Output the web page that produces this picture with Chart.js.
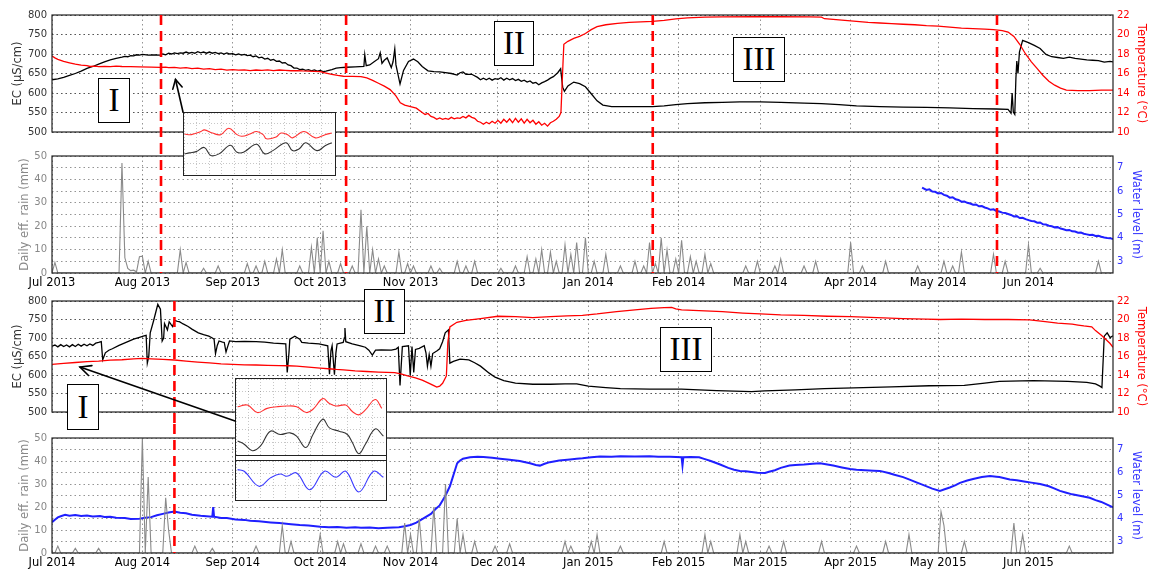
<!DOCTYPE html>
<html>
<head>
<meta charset="utf-8">
<title>EC, temperature, rain and water level</title>
<script src="https://cdn.jsdelivr.net/npm/chart.js@4.4.1/dist/chart.umd.min.js"></script>
<style>
  html, body { margin: 0; padding: 0; background: #fff; }
  #wrap { position: relative; width: 1149px; height: 573px; overflow: hidden; }
  canvas.panel { position: absolute; left: 0; }
  .tag { position: absolute; box-sizing: border-box; border: 1.5px solid #000; background: #fff;
         font-family: 'Liberation Serif', 'DejaVu Serif', serif; font-size: 33px; line-height: 1;
         display: flex; align-items: center; justify-content: center; color: #000; }
  .inset { position: absolute; box-sizing: border-box; background: #fff; border: 1.5px solid #222; }
  .inset canvas { display: block; }
  .inset .sep { height: 4px; border-top: 1.5px solid #222; border-bottom: 1.5px solid #222; background: #fff; }
  #arrows { position: absolute; left: 0; top: 0; }
</style>
</head>
<body>
<div id="wrap">
  <canvas class="panel" id="p1" width="1149" height="144" style="top:0px"></canvas>
  <canvas class="panel" id="p2" width="1149" height="146" style="top:144px"></canvas>
  <canvas class="panel" id="p3" width="1149" height="134" style="top:290px"></canvas>
  <canvas class="panel" id="p4" width="1149" height="149" style="top:424px"></canvas>

  <div class="inset" style="left:183px; top:112px; width:153px; height:64px;">
    <canvas id="insetTop" width="150" height="61"></canvas>
  </div>
  <div class="inset" style="left:235px; top:378px; width:152px; height:123px;">
    <canvas id="insetMid" width="149" height="76"></canvas>
    <div class="sep"></div>
    <canvas id="insetLow" width="149" height="37"></canvas>
  </div>

  <div class="tag" style="left:98px; top:78px; width:32px; height:45px;">I</div>
  <div class="tag" style="left:494px; top:21px; width:40px; height:45px;">II</div>
  <div class="tag" style="left:733px; top:37px; width:52px; height:45px;">III</div>
  <div class="tag" style="left:364px; top:289px; width:41px; height:45px;">II</div>
  <div class="tag" style="left:660px; top:327px; width:52px; height:45px;">III</div>
  <div class="tag" style="left:67px; top:384px; width:32px; height:46px;">I</div>

  <svg id="arrows" width="1149" height="573"></svg>
</div>

<script>
// ---- time axis (days since 1 July of the first year) ----
const MONTH_STARTS = [0, 31, 62, 92, 123, 153, 184, 215, 243, 274, 304, 335];
const DAY_MAX = 364;
const tickLabels2013 = ['Jul 2013', 'Aug 2013', 'Sep 2013', 'Oct 2013', 'Nov 2013', 'Dec 2013',
                        'Jan 2014', 'Feb 2014', 'Mar 2014', 'Apr 2014', 'May 2014', 'Jun 2014'];
const tickLabels2014 = ['Jul 2014', 'Aug 2014', 'Sep 2014', 'Oct 2014', 'Nov 2014', 'Dec 2014',
                        'Jan 2015', 'Feb 2015', 'Mar 2015', 'Apr 2015', 'May 2015', 'Jun 2015'];

// ---- axis tick values ----
const ecTicks = [500, 550, 600, 650, 700, 750, 800];
const tempTicks = [10, 12, 14, 16, 18, 20, 22];
const rainTicks = [0, 10, 20, 30, 40, 50];
const levelTicks = [3, 4, 5, 6, 7];

// ---- period boundaries (day numbers) ----
const boundaries2013 = [37.4, 100.9, 206.1, 324.2];
const boundaries2014 = [42.0];

// ---- 2013/14: EC (uS/cm) ----
const ec2013 = [
  [0,634],[2,636],[4,640],[6,645],[8,650],[10,656],[12,663],[14,668],[16,674],[18,680],[20,685],[22,689],
  [24,692],[25,694],[26,693],[27,696],[28,695],[29,698],[30,697],[31,699],[33,697],[35,698],[37,697],[38,700],
  [39,698],[40,702],[41,700],[42,703],[43,701],[44,703],[45,702],[46,705],[47,702],[48,704],[49,702],[50,706],
  [51,703],[52,705],[53,702],[54,705],[55,702],[56,704],[57,701],[58,703],[59,700],[60,703],[61,700],[62,701],
  [63,698],[64,700],[65,697],[66,699],[67,696],[68,697],[69,693],[70,695],[71,690],[72,692],[73,687],[74,689],
  [75,684],[76,686],[77,681],[78,682],[79,677],[80,678],[81,672],[82,670],[83,664],[84,664],[85,660],[86,661],
  [87,658],[88,660],[89,657],[90,659],[91,656],[92,658],[93,655],[94,656],[96,660],
  [97.5,664],[99,665],[101,666],[104,667],[107,668],[107.3,698],[107.8,670],[109,672],[110.5,680],[112,688],
  [112.6,703],[113.2,676],[114,684],[115,690],[116.4,665],[117,680],[117.6,713],[118,672],[119.4,623],[120.6,658],
  [122.3,681],[124,687],[125.5,680],[127,668],[129,657],[131,655],[133,654],[135,652],[137,650],[139,646],
  [140,652],[141,654],[142,648],[144,648],[146,640],[147,634],[148,638],[149,634],[150,638],[151,633],[152,637],
  [153,635],[154,639],[155,633],[156,638],[157,634],[158,637],[159,632],[160,635],[161,630],[162,633],[163,628],
  [164,631],[165,625],[166,627],[167,621],[168,626],[169,629],[170,633],[171,638],[172,642],[173.5,652],
  [174.5,662],[175.2,615],[175.8,604],[177,618],[179,628],[181,624],[183,616],[185,598],[187,580],[189,569],
  [192,565],[196,565],[200,565],[206,565],[210,567],[214,570],[218,573],[224,575],[230,576],[236,577],
  [243,577],[250,576],[258,574],[264,573],[270,570],[276,567],[284,565],[292,564],[300,563],[308,562],
  [316,560],[324,559],[328,558],[329,548],[329.4,600],[329.8,551],[330.3,545],[330.7,640],[331,682],
  [331.4,650],[331.9,705],[333,735],[335,729],[337,722],[339,714],[341,699],[343,693],[345,691],[347,689],
  [349,692],[351,689],[353,687],[355,685],[357,684],[359,683],[361,679],[363,681],[364,680]
];

// ---- 2013/14: water temperature (deg C) ----
const temp2013 = [
  [0,17.8],[1,17.6],[2,17.45],[4,17.25],[6,17.1],[8,16.95],[10,16.85],[12,16.8],[13,16.72],[15,16.76],[16,16.7],
  [18,16.74],[20,16.7],[22,16.75],[24,16.72],[27,16.7],[30,16.68],[34,16.65],[37,16.62],[39,16.66],[40,16.6],
  [42,16.63],[44,16.55],[46,16.6],[48,16.5],[50,16.55],[52,16.45],[54,16.5],[56,16.4],[58,16.45],[60,16.35],
  [62,16.4],[64,16.35],[66,16.38],[68,16.3],[70,16.36],[72,16.32],[74,16.37],[76,16.3],[78,16.36],[80,16.33],
  [82,16.28],[84,16.3],[86,16.26],[88,16.25],[90,16.22],[92,16.2],[94,16.05],
  [96,15.9],[98,15.8],[100,15.72],[103,15.7],[106,15.68],[108,15.55],[110,15.3],[112,15.0],[114,14.7],
  [116,14.35],[118,13.7],[119.5,13.0],[121,12.75],[123,12.6],[125,12.45],[127,12.0],[128,11.8],[129,11.9],
  [130,11.6],[131,11.5],[132,11.3],[133,11.45],[134,11.3],[135,11.4],[136,11.3],[137,11.5],[138,11.35],
  [139,11.45],[140,11.4],[141,11.6],[142,11.45],[143,11.7],[144,11.5],[145,11.4],[146,11.1],[147,11.0],
  [148,10.8],[149,11.0],[150,10.85],[151,11.1],[152,10.9],[153,11.2],[154,10.9],[155,11.3],[156,11.0],
  [157,11.35],[158,10.95],[159,11.4],[160,11.0],[161,11.35],[162,10.9],[163,11.3],[164,10.95],[165,11.2],
  [166,10.8],[167,11.05],[168,10.7],[169,10.9],[170,10.6],[171,10.95],[172,11.1],[173,11.3],[174,11.6],
  [174.6,12.0],[175.3,17.0],[175.6,19.0],[177,19.3],[179,19.6],[181,19.8],[183,20.1],[185,20.5],[187,20.8],
  [190,21.0],[194,21.15],[198,21.25],[202,21.3],[206,21.35],[210,21.45],[214,21.6],[218,21.7],[224,21.78],
  [230,21.8],[240,21.82],[250,21.82],[260,21.8],[264,21.78],[265,21.62],[268,21.55],[272,21.45],[276,21.35],
  [280,21.25],[284,21.18],[288,21.12],[292,21.05],[296,21.0],[300,20.9],[304,20.85],[308,20.75],[312,20.65],
  [316,20.6],[320,20.55],[323,20.5],[326,20.4],[328,20.25],[330,19.8],[332,19.0],[334,18.0],[336,17.2],
  [338,16.5],[340,15.8],[342,15.2],[344,14.8],[346,14.5],[348,14.3],[352,14.25],[356,14.25],[360,14.3],[364,14.3]
];

// ---- 2013/14: daily effective rain (mm), days with rain ----
const rainDays2013 = [1,24,25,26,27,28,29,30,31,33,44,46,52,57,67,70,73,77,79,85,89,91,93,95,99,103,106,108,110,112,
  114,119,122,124,130,133,139,142,145,154,159,163,166,168,171,173,176,178,180,183,186,190,195,200,203,205,207,209,
  211,214,216,219,221,224,226,238,242,248,250,258,262,274,278,286,297,306,309,312,323,327,335,339,359];
const rainMm2013 = [4.5,47,6.5,2,1,1.2,0.5,7,7.2,5,10,4.5,2,3,4,3,5,6,10,3,11,15,18,5,4,3,27,20,10,6,
  3,9,4,3,3,2,5,3,5,2,3,7,6,10,9,5,12,8,13,15,5,8,3,5,3,13,4,15,
  10,6,14,7,5,8,4,3,5,3,6,3,5,13,3,5,3,5,3,9,8,5,12,2,5];

// ---- 2013/14: water level (m) ----
const level2013 = [
  [298.5,6.15],[300,6.05],[301,6.08],[302,5.98],[303,5.97],[304,5.9],[305,5.92],[306,5.84],[307,5.8],[308,5.72],
  [309,5.74],[310,5.65],[311,5.62],[312,5.55],[313,5.56],[314,5.5],[315,5.47],[316,5.42],[317,5.43],[318,5.35],
  [319,5.36],[320,5.3],[321,5.26],[322,5.2],[323,5.22],[324,5.15],[325,5.13],[326,5.08],[327,5.06],[328,5.02],
  [329,4.98],[330,4.92],[331,4.93],[332,4.85],[333,4.86],[334,4.8],[335,4.76],[336,4.72],[337,4.71],[338,4.65],
  [339,4.66],[340,4.58],[341,4.57],[342,4.52],[343,4.5],[344,4.45],[345,4.46],[346,4.4],[347,4.37],[348,4.33],
  [349,4.34],[350,4.28],[351,4.27],[352,4.22],[353,4.23],[354,4.18],[355,4.15],[356,4.12],[357,4.13],[358,4.08],
  [359,4.09],[360,4.05],[361,4.02],[362,4.0],[363,3.99],[364,3.95]
];

// ---- 2014/15: EC (uS/cm) ----
const ec2014 = [
  [0,678],[1,681],[2,676],[3,682],[4,677],[5,681],[6,676],[7,682],[8,677],[9,683],[10,678],[11,683],[12,679],
  [13,684],[14,680],[15,686],[16,688],[16.9,690],[17.4,641],[18.3,660],[19.5,667],[20.7,671],[23,680],[25.4,688],
  [28,697],[30,702],[31.3,705],[32.3,707],[32.7,632],[33.2,650],[33.7,714],[34.9,748],[36.3,791],[37.2,778],
  [37.8,692],[38.3,700],[38.6,739],[39.6,722],[40.2,744],[41,735],[41.4,731],[42,748],[43,745],[43.7,744],
  [45,738],[46.7,731],[48,724],[50.2,714],[52,709],[53.8,705],[55,700],[55.6,697],[56.1,658],[56.7,680],
  [57.3,692],[58.5,689],[59.1,688],[59.7,662],[60.4,680],[60.9,692],[63,690],[66,691],[70,690],[73,689],
  [76,686],[80.2,684],[80.7,607],[81.3,660],[81.6,697],[83.3,705],[85,697],[85.7,688],[88,686],[91.6,684],
  [94.6,679],[95.2,602],[95.7,665],[96.1,679],[96.9,601],[97.4,660],[97.8,684],[99.9,688],[100.3,700],
  [100.5,727],[100.8,690],[103,684],[105.8,679],[107.5,675],[108.7,667],[109.9,654],[111,667],[113,668],
  [116.4,667],[118,670],[118.8,675],[119.4,572],[120.2,677],[122.3,679],[122.9,598],[123.5,677],[124.1,607],
  [124.7,669],[126,672],[127.7,679],[128.3,660],[128.8,624],[129.4,655],[130,624],[130.6,658],[132,665],
  [133,671],[134,690],[134.9,714],[136,722],[136.5,632],[137.7,637],[140,643],[143,641],[145,633],[147,624],
  [150,605],[152,594],[155,585],[159,578],[165,575],[171,575],[176,576],[180,576],[184,570],[190,566],
  [195,563],[205,562],[216,562],[228,558],[240,555],[244.5,557],[255,560],[265,563],[275,565],[288,568],
  [301,571],[313,572],[320,578],[325,583],[336.7,585],[348.5,583],[355,580],[358,576],[359.5,570],[360.2,566],
  [361,705],[362,714],[363,701],[364,706]
];

// ---- 2014/15: water temperature (deg C) ----
const temp2014 = [
  [0,15.15],[4,15.25],[8,15.35],[12,15.45],[16,15.5],[20,15.6],[24,15.65],[28,15.75],[31,15.8],[34,15.75],
  [38,15.7],[42,15.62],[46,15.5],[50,15.4],[54,15.3],[58,15.2],[62,15.15],[66,15.1],[70,15.08],[74,15.05],
  [78,15.02],[81,15.0],[84,14.95],[88,14.85],[92,14.75],[96,14.65],[97.5,14.6],[100,14.55],[104,14.45],
  [108,14.38],[112,14.32],[117.6,14.25],[120,14.1],[122,13.9],[124.7,13.7],[127,13.45],[129.4,13.1],[131,12.85],
  [132,12.7],[133,12.8],[134,13.1],[135.3,13.9],[135.8,17.5],[136.5,19.2],[138.9,19.7],[142,19.9],[147,20.1],
  [153,20.35],[159,20.3],[165,20.2],[171,20.3],[176.7,20.4],[182,20.45],[187,20.6],[193.7,20.85],[200,21.05],
  [205.5,21.2],[210,21.28],[212.6,21.3],[214,21.15],[216,21.05],[222,20.95],[230,20.85],[237,20.7],[243,20.6],
  [250,20.5],[258,20.45],[266,20.35],[274,20.3],[283,20.2],[292,20.1],[300,20.05],[304.7,20.0],[312,20.05],
  [320,20.0],[328,20.0],[335.4,19.95],[340,19.8],[345,19.6],[350,19.5],[352,19.4],[354,19.3],[356.7,19.2],
  [358,18.8],[360,18.3],[361.4,17.9],[363,17.4],[364,17.0]
];

// ---- 2014/15: daily effective rain (mm), days with rain ----
const rainDays2014 = [2,8,16,31,33,39,40,49,55,70,79,82,92,98,100,106,111,115,121,123,126,131,135,139,141,145,152,
  157,176,178,185,187,195,210,224,226,236,238,246,251,264,276,286,294,305,306,313,330,333,349];
const rainMm2014 = [3,2,2,50,33,24,10,3,2,3,12,5,8,5,4,4,3,3,13,8,15,20,30,15,8,5,3,
  4,5,3,5,8,3,5,8,5,8,5,3,5,5,3,5,8,18,12,5,13,8,3];

// ---- 2014/15: water level (m) ----
const level2014 = [
  [0,3.84],[1,3.95],[2,4.05],[3,4.1],[4.5,4.16],[6,4.12],[8,4.15],[10,4.11],[12,4.13],[14,4.09],[16.5,4.11],
  [18,4.07],[20,4.08],[22,4.03],[25,4.02],[27,3.98],[30,3.99],[32,4.03],[34,4.06],[36,4.14],[38,4.2],[40,4.26],
  [42,4.3],[44,4.25],[46,4.23],[48,4.16],[51,4.12],[53,4.1],[55,4.08],[55.3,4.5],[55.6,4.08],[58,4.02],[60,4.02],
  [63,3.96],[66,3.94],[68,3.9],[71,3.88],[75,3.83],[78,3.8],[82,3.75],[85,3.72],[88,3.7],[92,3.64],[95,3.62],
  [98,3.63],[101,3.6],[104,3.62],[106,3.6],[109,3.61],[112,3.58],[115,3.6],[119,3.62],[121,3.66],[123,3.72],
  [125,3.82],[126,3.9],[128,4.05],[130,4.2],[131.5,4.4],[133,4.57],[134,4.78],[135,5.0],[136.5,5.4],[137.5,5.8],
  [138,6.0],[139,6.4],[140,6.52],[141,6.6],[143.4,6.66],[146,6.68],[148,6.67],[151,6.64],[153.7,6.6],[157,6.55],
  [160.5,6.5],[162,6.46],[164,6.4],[166,6.33],[167.4,6.3],[169,6.38],[170.8,6.45],[174,6.52],[177.7,6.57],
  [180,6.6],[182,6.62],[185,6.66],[188,6.7],[192,6.69],[195,6.71],[200,6.7],[205,6.71],[208,6.69],[212,6.68],
  [216,6.66],[216.3,6.3],[216.6,6.66],[219,6.67],[222,6.66],[224,6.58],[226,6.5],[229,6.36],[232,6.2],[234,6.12],
  [236,6.07],[238,6.05],[240,6.02],[242,5.99],[244.6,5.98],[246,6.03],[248,6.1],[250,6.2],[253,6.3],[255,6.33],
  [258,6.35],[261,6.38],[263.5,6.4],[266,6.35],[268,6.3],[271,6.22],[273.8,6.15],[276,6.12],[279,6.1],[282,6.08],
  [284,6.07],[287,5.98],[289,5.9],[292,5.8],[294,5.7],[297,5.55],[299,5.45],[302,5.3],[304.6,5.2],[306,5.26],
  [308,5.35],[310,5.45],[311.5,5.55],[314,5.65],[316,5.72],[319,5.8],[321.8,5.85],[324,5.82],[325,5.8],
  [328.6,5.7],[331,5.66],[334,5.6],[336,5.56],[339,5.5],[342,5.4],[344,5.3],[345.8,5.2],[348,5.12],[350,5.05],
  [353,4.98],[356,4.9],[358,4.8],[360,4.72],[362,4.6],[364,4.48]
];

// ---- inset close-ups (arbitrary units on a 12 x 6 grid) ----
const insetTopTemp = [[0.05,3.93],[0.58,3.87],[1.36,4.18],[1.62,4.34],[2.27,4.03],[2.93,3.87],[3.58,4.5],[4.24,3.87],
  [4.63,3.71],[5.28,3.93],[5.8,4.18],[6.33,3.87],[6.59,3.46],[7.37,3.65],[7.76,4.03],[8.29,3.87],[8.68,3.55],
  [9.59,4.18],[10.51,3.55],[11.29,3.87],[11.82,4.03]];
const insetTopEc = [[0.05,1.98],[0.44,2.08],[0.97,2.2],[1.62,2.61],[2.14,1.82],[2.8,1.98],[3.71,2.83],[4.24,2.14],
  [4.76,2.14],[5.8,2.92],[6.46,1.98],[7.11,2.3],[8.16,3.08],[8.68,2.3],[9.2,2.45],[9.73,3.08],[10.64,2.3],
  [11.29,2.77],[11.82,3.08]];
const insetMidTemp = [[0.13,3.81],[0.92,3.94],[1.72,3.35],[2.51,3.68],[3.3,3.81],[4.09,3.87],[4.88,3.81],[5.67,3.35],
  [6.2,3.61],[6.99,4.45],[7.52,4.07],[8.05,3.87],[8.84,3.94],[9.37,3.43],[9.89,3.17],[10.42,3.56],[11.21,4.38],
  [11.74,3.68]];
const insetMidEc = [[0.13,1.11],[0.66,0.85],[1.32,0.34],[1.98,0.72],[2.77,1.88],[3.56,1.62],[4.35,1.75],[4.88,1.49],
  [5.62,0.59],[6.2,1.62],[6.99,2.83],[7.52,2.14],[8.31,1.88],[8.97,1.62],[9.37,0.98],[9.89,0.1],[10.42,0.85],
  [11.21,2.06],[11.87,1.49]];
const insetLowLevel = [[0.13,2.3],[0.66,2.17],[1.85,0.95],[2.77,1.63],[3.56,1.95],[4.09,1.76],[4.88,2.03],
  [5.94,0.67],[7.12,2.17],[8.05,1.68],[8.84,2.17],[9.89,0.49],[11.08,2.17],[11.87,1.68]];

// ---------------------------------------------------------------
const FONT = 'DejaVu Sans';
const GRID_COLOR = 'rgba(0,0,0,0.42)';
const GRID_DASH = [1.5, 3];
Chart.defaults.font.family = FONT;

const toXY = arr => arr.map(p => ({ x: p[0], y: p[1] }));
function dailyRain(days, mm) {
  const byDay = new Map(days.map((d, i) => [d, mm[i]]));
  const out = [];
  for (let d = 0; d <= DAY_MAX; d++) out.push({ x: d, y: byDay.has(d) ? byDay.get(d) : 0 });
  return out;
}

// frame around the plotting area
const framePlugin = {
  id: 'frame',
  afterDatasetsDraw(chart, args, opts) {
    const { ctx, chartArea: a } = chart;
    ctx.save();
    ctx.strokeStyle = opts.color || '#222';
    ctx.lineWidth = opts.width || 1.2;
    ctx.strokeRect(a.left, a.top, a.right - a.left, a.bottom - a.top);
    ctx.restore();
  }
};

// red dashed period boundaries
const vdashPlugin = {
  id: 'vdash',
  afterDraw(chart, args, opts) {
    if (!opts || !opts.days) return;
    const { ctx, chartArea: a, scales: { x } } = chart;
    const y0 = opts.fromEdge ? 0 : a.top;
    const y1 = opts.toEdge ? chart.height : a.bottom;
    ctx.save();
    ctx.strokeStyle = '#ff0000';
    ctx.lineWidth = 2.6;
    ctx.setLineDash([10, 6]);
    opts.days.forEach(d => {
      const px = x.getPixelForValue(d);
      ctx.beginPath(); ctx.moveTo(px, y0); ctx.lineTo(px, y1); ctx.stroke();
    });
    ctx.restore();
  }
};

function xAxis(labels, showLabels, height) {
  return {
    type: 'linear', position: 'bottom', min: 0, max: DAY_MAX,
    afterBuildTicks: s => { s.ticks = MONTH_STARTS.map(v => ({ value: v })); },
    afterFit: s => { s.height = height; },
    ticks: {
      display: showLabels, autoSkip: false, maxRotation: 0, minRotation: 0, padding: 3,
      color: '#000', font: { size: 11.5 },
      callback: v => labels[MONTH_STARTS.indexOf(v)]
    },
    grid: { color: GRID_COLOR, lineWidth: 1, drawTicks: false },
    border: { display: false, dash: GRID_DASH }
  };
}

function yAxis(o) {
  return {
    type: 'linear', position: o.pos, min: o.min, max: o.max,
    afterBuildTicks: s => { s.ticks = o.ticks.map(v => ({ value: v })); },
    afterFit: s => { s.width = o.width; },
    ticks: { autoSkip: false, padding: o.pos === 'left' ? 5 : 4, color: o.color,
             font: { size: 10 }, callback: v => String(v) },
    title: { display: true, text: o.title, color: o.color, font: { size: 11.5 },
             padding: { top: o.titlePad, bottom: 0 } },
    grid: { color: GRID_COLOR, lineWidth: 1, drawTicks: false, drawOnChartArea: true },
    border: { display: false, dash: GRID_DASH }
  };
}

function line(data, axis, color, width, tension) {
  return { data, yAxisID: axis, borderColor: color, backgroundColor: color, borderWidth: width,
           pointRadius: 0, fill: false, tension: tension || 0 };
}

function panel(id, o) {
  return new Chart(document.getElementById(id), {
    type: 'line',
    data: { datasets: o.datasets },
    options: {
      responsive: false, animation: false, events: [],
      layout: { padding: { top: o.padTop, left: 0, right: 0, bottom: 0 } },
      plugins: { legend: { display: false }, tooltip: { enabled: false }, vdash: o.vdash, frame: {} },
      scales: { x: o.x, yL: o.yL, yR: o.yR }
    },
    plugins: [framePlugin, vdashPlugin]
  });
}

function ecTempPanel(id, labels, ec, temp, padTop, xh, vdash, leftPad, rightPad) {
  return panel(id, {
    padTop, vdash,
    datasets: [line(toXY(temp), 'yR', '#ff0000', 1.3), line(toXY(ec), 'yL', '#000000', 1.3)],
    x: xAxis(labels, false, xh),
    yL: yAxis({ pos: 'left', min: 500, max: 800, ticks: ecTicks, width: 52, color: '#333',
                title: 'EC (\u03bcS/cm)', titlePad: leftPad }),
    yR: yAxis({ pos: 'right', min: 10, max: 22, ticks: tempTicks, width: 36, color: '#ff0000',
                title: 'Temperature (\u00b0C)', titlePad: rightPad })
  });
}

function rainPanel(id, labels, rain, level, padTop, xh, vdash) {
  return panel(id, {
    padTop, vdash,
    datasets: [line(rain, 'yL', '#8a8a8a', 1.1), line(toXY(level), 'yR', '#1f1fff', 2)],
    x: xAxis(labels, true, xh),
    yL: yAxis({ pos: 'left', min: 0, max: 50, ticks: rainTicks, width: 52, color: '#888',
                title: 'Daily eff. rain (mm)', titlePad: 18 }),
    yR: yAxis({ pos: 'right', min: 2.5, max: 7.5, ticks: levelTicks, width: 36, color: '#3333ff',
                title: 'Water level (m)', titlePad: 6 })
  });
}

ecTempPanel('p1', tickLabels2013, ec2013, temp2013, 15, 12,
            { days: boundaries2013, fromEdge: false, toEdge: true }, 11, 1.6);
rainPanel('p2', tickLabels2013, dailyRain(rainDays2013, rainMm2013), level2013, 12, 17,
          { days: boundaries2013, fromEdge: true, toEdge: false });
ecTempPanel('p3', tickLabels2014, ec2014, temp2014, 5, 12,
            { days: boundaries2014, fromEdge: false, toEdge: true }, 11, 1.6);
rainPanel('p4', tickLabels2014, dailyRain(rainDays2014, rainMm2014), level2014, 14, 20,
          { days: boundaries2014, fromEdge: true, toEdge: false });

// ---- close-up insets ----
function inset(id, series, ymax, ystep) {
  const hid = { display: true, ticks: { display: false }, border: { display: false, dash: [1, 2] },
                grid: { color: 'rgba(0,0,0,0.22)', drawTicks: false } };
  return new Chart(document.getElementById(id), {
    type: 'line',
    data: { datasets: series.map(s => line(toXY(s.data), 'y', s.color, 1.1, 0.4)) },
    options: {
      responsive: false, animation: false, events: [],
      layout: { padding: 0 },
      plugins: { legend: { display: false }, tooltip: { enabled: false } },
      scales: {
        x: Object.assign({ type: 'linear', min: 0, max: 12, afterFit: s => { s.height = 0; } }, hid,
                         { ticks: { display: false, stepSize: 1 } }),
        y: Object.assign({ type: 'linear', min: 0, max: ymax, afterFit: s => { s.width = 0; } }, hid,
                         { ticks: { display: false, stepSize: ystep } })
      }
    }
  });
}
inset('insetTop', [{ data: insetTopTemp, color: '#ff3030' }, { data: insetTopEc, color: '#333' }], 6, 1);
inset('insetMid', [{ data: insetMidTemp, color: '#ff3030' }, { data: insetMidEc, color: '#333' }], 6, 1);
inset('insetLow', [{ data: insetLowLevel, color: '#3a3aff' }], 3, 1);

// ---- pointer arrows from the insets ----
function arrow(x1, y1, x2, y2, len, ang) {
  const a = Math.atan2(y1 - y2, x1 - x2);
  const w1 = [x2 + len * Math.cos(a + ang), y2 + len * Math.sin(a + ang)];
  const w2 = [x2 + len * Math.cos(a - ang), y2 + len * Math.sin(a - ang)];
  return `<line x1="${x1}" y1="${y1}" x2="${x2}" y2="${y2}"/>` +
         `<polyline points="${w1[0]},${w1[1]} ${x2},${y2} ${w2[0]},${w2[1]}"/>`;
}
document.getElementById('arrows').innerHTML =
  '<g stroke="#000" stroke-width="1.6" fill="none" stroke-linecap="round">' +
  arrow(183, 112, 175.5, 79.5, 10, 0.5) +
  arrow(235, 421, 80, 367, 12, 0.45) +
  '</g>';
</script>
</body>
</html>
